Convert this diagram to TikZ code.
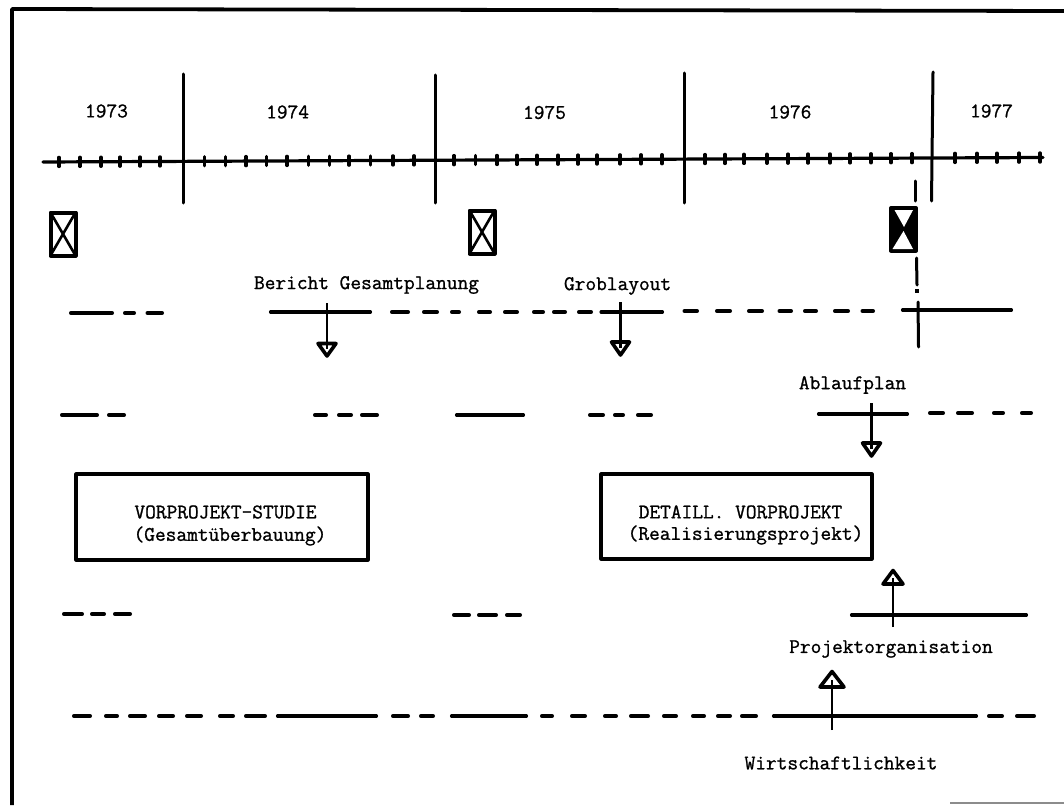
\documentclass[tikz,border=0pt]{standalone}
\usepackage{fontspec}
\setmainfont{Latin Modern Mono}[FakeBold=1.1]
\usetikzlibrary{calc}
\tikzset{
  frameline/.style={line width=3.8pt},
  yearline/.style={line width=3pt,line cap=round},
  axisline/.style={line width=3.2pt,line cap=round},
  tickmark/.style={line width=3.4pt,line cap=round},
  barline/.style={line width=3.6pt,line cap=round,shorten <=1.8pt,shorten >=1.8pt},
  solidbar/.style={line width=3.1pt,line cap=round,shorten <=1.5pt,shorten >=1.5pt},
  stem/.style={line width=2.8pt},
  tiphead/.style={line width=3.6pt,fill=white,line join=round},
  milebox/.style={line width=4pt,draw,fill=white,line join=round},
  boxframe/.style={line width=3.1pt,draw,line join=round},
  lbl/.style={font=\fontsize{20.8}{22}\selectfont,inner sep=0pt,anchor=center},
}
% \hbars{y}{list of a/b}: one row of dashes
\newcommand{\hbars}[2]{\foreach \a/\b in {#2}{\draw[barline] (\a,#1) -- (\b,#1);}}
% \sbars{y}{list of a/b}: one row of long solid bars
\newcommand{\sbars}[2]{\foreach \a/\b in {#2}{\draw[solidbar] (\a,#1) -- (\b,#1);}}
% \flagarrow{name}{x}{stem start y}{base y}{tip y}{half width}
\newcommand{\flagarrow}[6]{%
  \coordinate (#1s) at (#2,#3);
  \coordinate (#1b) at (#2,#4);
  \coordinate (#1t) at (#2,#5);
  \draw[tiphead] ($(#1b)+(-#6,0)$) -- ($(#1b)+(#6,0)$) -- (#1t) -- cycle;
  \draw[stem] (#1s) -- ($(#1b)!0.45!(#1t)$);
}
\begin{document}
\begin{tikzpicture}[x=1pt,y=-1pt]
\useasboundingbox (0,0) rectangle (1064,805);
\fill[white] (0,0) rectangle (1064,805);
% frame
\coordinate (fa) at (12,805);
\coordinate (fb) at (12,9);
\coordinate (fc) at (1064,11);
\draw[frameline,line join=round] (fa) -- (fb) -- (fc);
\coordinate (ga) at (950,803);
\coordinate (gb) at (1064,803);
\draw[line width=1.5pt,black!45] (ga) -- (gb);
% axis
\coordinate (axa) at (43,162);
\coordinate (axb) at (1043,157.5);
\draw[axisline] (axa) -- (axb);
\foreach \t in {59,80,101,120,140,160,204.5,225.5,246,266.5,287,308.6,329.6,349,370.7,393,414,454,475.5,497,517,537,558,578,597,620,641,662,705,725,744,767,788,808,830,850,871,891,912,955,977,997,1019,1040}{
  \pgfmathsetmacro{\yy}{162-(\t-43)*0.0045}
  \draw[tickmark] (\t,\yy-4.5) -- (\t,\yy+4.5);
}
% year lines
\coordinate (y1a) at (183,74); \coordinate (y1b) at (183,203);
\coordinate (y2a) at (435,75); \coordinate (y2b) at (435,203);
\coordinate (y3a) at (684,73); \coordinate (y3b) at (684,203);
\coordinate (y4a) at (933,72); \coordinate (y4b) at (931.5,201);
\draw[yearline] (y1a) -- (y1b);
\draw[yearline] (y2a) -- (y2b);
\draw[yearline] (y3a) -- (y3b);
\draw[yearline] (y4a) -- (y4b);
% years
\node[lbl] (t73) at (106.5,111) {1973};
\node[lbl] (t74) at (287.6,112) {1974};
\node[lbl] (t75) at (544.5,112.5) {1975};
\node[lbl] (t76) at (790,112) {1976};
\node[lbl] (t77) at (991.5,111) {1977};
% milestone boxes
\draw[milebox] (50.5,212.5) rectangle (75.5,255.5);
\draw[line width=2.6pt] (50.5,212.5) -- (75.5,255.5) (75.5,212.5) -- (50.5,255.5);
\draw[milebox] (469.5,210.5) rectangle (494.5,253.5);
\draw[line width=2.6pt] (469.5,210.5) -- (494.5,253.5) (494.5,210.5) -- (469.5,253.5);
\draw[milebox,fill=black] (891,208) rectangle (916,250.5);
\fill[white] (894.5,210) -- (913,210) -- (904,227) -- cycle;
\fill[white] (892.5,249) -- (913,249) -- (903.5,231) -- cycle;
% dash-dot line
\coordinate (d1) at (915,181); \coordinate (d2) at (915,201);
\coordinate (d3) at (916.5,258); \coordinate (d4) at (917,285);
\coordinate (d5) at (917,289); \coordinate (d6) at (917,293);
\coordinate (d7) at (918,302); \coordinate (d8) at (918.5,347);
\draw[yearline] (d1) -- (d2);
\draw[yearline] (d3) -- (d4);
\draw[line width=3.4pt] (d5) -- (d6);
\draw[yearline] (d7) -- (d8);
% row 1
\hbars{313}{69/114,123/136,145.5/164}
\sbars{312}{269/372,599.5/664}
\hbars{312}{390/410,422/439,450/461,477/492,503/519,532/545,552/567,577/593}
\hbars{311}{682.5/699,715/732,747/764,777.5/793,803/818,833/850,860.5/875}
\sbars{310}{901/1013}
\node[lbl] (bg) at (366.5,285) {Bericht Gesamtplanung};
\node[lbl] (gl) at (617.6,286) {Groblayout};
\flagarrow{aa}{327}{303}{343.5}{356}{9}
\flagarrow{ab}{620.5}{302}{342}{355}{9}
% row 2
\hbars{415}{60/99,107/126,313/328,337/353,360/379,588/605,613/625,636/653}
\sbars{415}{455/525}
\sbars{414}{817/909}
\hbars{413}{928/945,956/974,992/1005,1020/1033}
\node[lbl] (ap) at (852.5,385) {Ablaufplan};
\flagarrow{ac}{871.5}{403}{443}{456}{9}
% boxes
\node[boxframe,minimum width=292pt,minimum height=86pt,inner sep=0pt] (vs) at (222,517) {};
\node[lbl] (vsa) at (225.5,512) {VORPROJEKT-STUDIE};
\node[lbl] (vsb) at (230,536) {(Gesamtüberbauung)};
\node[boxframe,minimum width=271pt,minimum height=85pt,inner sep=0pt] (dv) at (736.5,516.5) {};
\node[lbl] (dva) at (740.5,512) {DETAILL. VORPROJEKT};
\node[lbl] (dvb) at (745.5,535) {(Realisierungsprojekt)};
% row 3
\hbars{614}{62/84,90/106,113/132}
\hbars{615}{452/471,477/498,505/522}
\sbars{615}{850/1028}
\node[lbl] (po) at (891,649) {Projektorganisation};
\flagarrow{ad}{893}{627}{584}{570.5}{10}
% row 4
\hbars{716}{72/92,104/119,128/147,157/175,185/203,218/235,244/267,391/410,419/435,540/554,570/587,603/618,629/650,662/678,691/706,716/732,740/758,987/1004,1015/1036}
\sbars{716}{276/378,450/528,772/978}
\node[lbl] (ws) at (841,763) {Wirtschaftlichkeit};
\flagarrow{ae}{832}{730}{687}{671.5}{12}
\end{tikzpicture}
\end{document}
